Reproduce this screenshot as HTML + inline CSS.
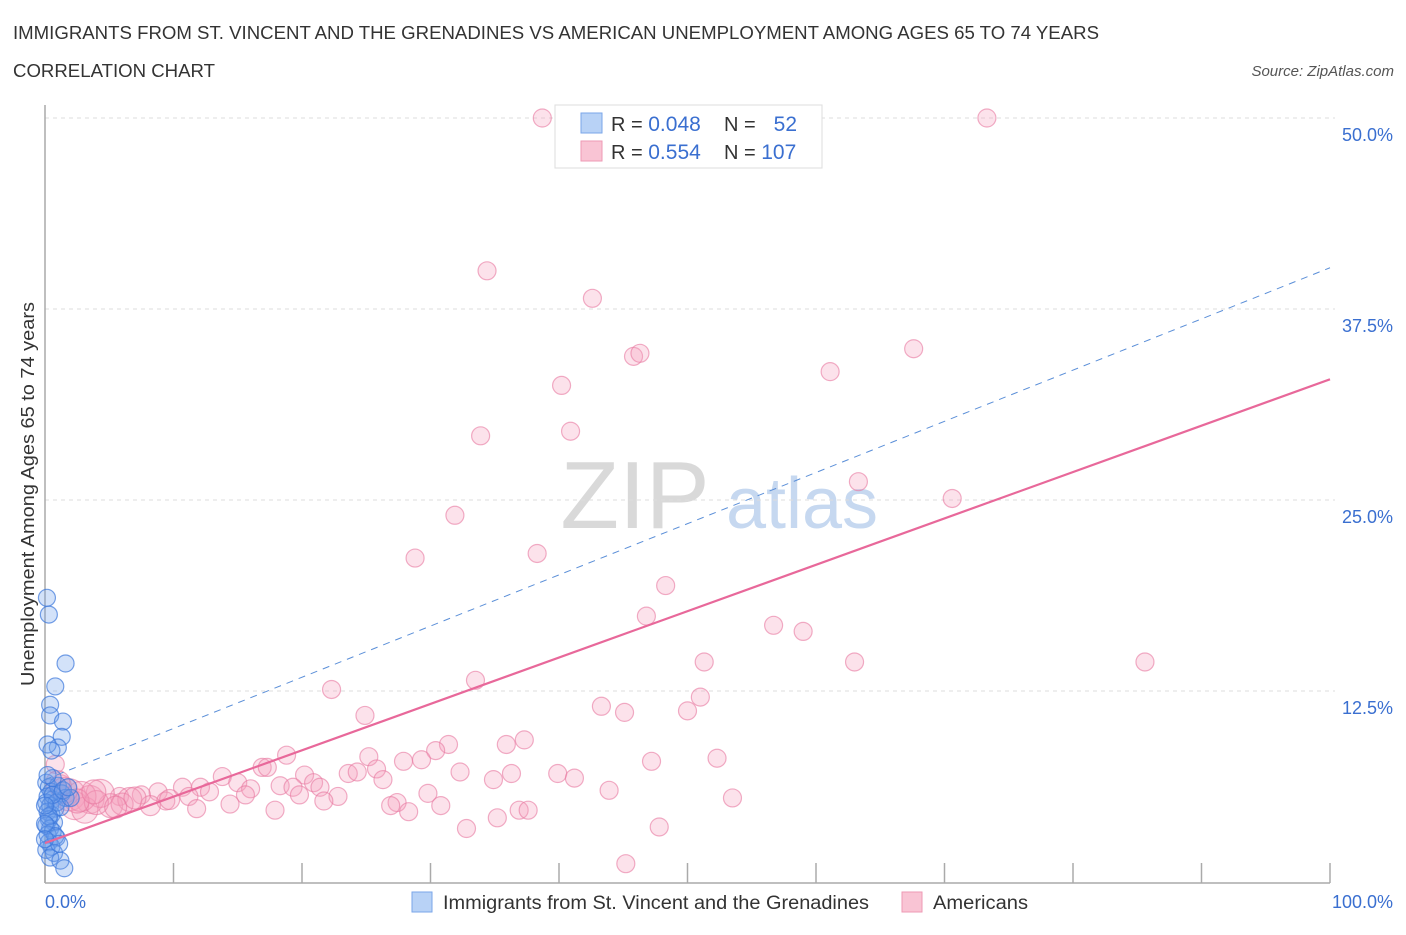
<!DOCTYPE html>
<html><head><meta charset="utf-8"><style>
body{margin:0;background:#fff;font-family:"Liberation Sans",sans-serif;}
svg text{font-family:"Liberation Sans",sans-serif;}
</style></head><body>
<svg id="chart" width="1406" height="930" xmlns="http://www.w3.org/2000/svg">
<text x="13" y="39" font-size="18" fill="#333" textLength="1086" lengthAdjust="spacingAndGlyphs">IMMIGRANTS FROM ST. VINCENT AND THE GRENADINES VS AMERICAN UNEMPLOYMENT AMONG AGES 65 TO 74 YEARS</text>
<text x="13" y="77" font-size="18" fill="#333" textLength="202" lengthAdjust="spacingAndGlyphs">CORRELATION CHART</text>
<text x="1394" y="76" font-size="15" fill="#555" text-anchor="end" font-style="italic">Source: ZipAtlas.com</text>
<g>
<text x="635" y="528" font-size="96" fill="#d9d9d9" font-family="Liberation Serif, serif" text-anchor="middle">ZIP</text>
<text x="802" y="528" font-size="72" fill="#c6d8f0" text-anchor="middle">atlas</text>
</g>
<g id="grid"></g>
<g id="axes"></g>
<g id="marks"></g>
<text transform="translate(34,494) rotate(-90)" font-size="18" fill="#333" text-anchor="middle" textLength="384" lengthAdjust="spacingAndGlyphs">Unemployment Among Ages 65 to 74 years</text>
<g>
<rect x="555" y="105" width="267" height="63" fill="#fff" stroke="#ddd"/>
<rect x="581" y="113" width="21" height="20" fill="#b8d2f6" stroke="#7aa6e8"/>
<rect x="581" y="141" width="21" height="20" fill="#f9c4d4" stroke="#ee9ab4"/>
<text x="611" y="131" font-size="20" fill="#333">R = <tspan fill="#3a6fd0" font-size="21">0.048</tspan></text>
<text x="724" y="131" font-size="20" fill="#333">N = </text><text x="797" y="131" font-size="21" fill="#3a6fd0" text-anchor="end">52</text>
<text x="611" y="159" font-size="20" fill="#333">R = <tspan fill="#3a6fd0" font-size="21"> 0.554</tspan></text>
<text x="724" y="159" font-size="20" fill="#333">N = <tspan fill="#3a6fd0" font-size="21">107</tspan></text>
</g>
<g>
<rect x="412" y="892" width="20" height="20" fill="#b8d2f6" stroke="#7aa6e8"/>
<text x="443" y="909" font-size="19" fill="#333" textLength="426" lengthAdjust="spacingAndGlyphs">Immigrants from St. Vincent and the Grenadines</text>
<rect x="902" y="892" width="20" height="20" fill="#f9c4d4" stroke="#ee9ab4"/>
<text x="933" y="909" font-size="19" fill="#333" textLength="95" lengthAdjust="spacingAndGlyphs">Americans</text>
</g>
</svg>
<script>
const yTicks=[12.5,25.0,37.5,50.0];
const xTickLabels=["0.0%","100.0%"];
const blueTrend=[6.7,40.2];
const pinkTrend=[2.55,32.9];
const blueX=[0.15,0.3,1.6,0.8,0.4,0.4,1.4,1.3,1.0,0.2,0.1,0.3,0.5,0.2,0.6,0.1,0.4,0.8,0.2,0.5,0.3,0.7,0.1,0.4,0.6,0.2,0.9,0.3,0.5,0.1,0.7,0.4,1.2,1.5,1.0,1.3,1.6,0.9,1.2,0.6,0.2,0.8,1.1,0.3,0.6,1.4,0.0,0.0,0.0,2.0,1.8,0.5];
const blueY=[18.6,17.5,14.3,12.8,11.6,10.9,10.5,9.5,8.8,9.0,6.5,6.2,5.9,5.6,5.4,5.2,5.0,4.8,4.6,4.4,4.1,3.9,3.7,3.5,3.3,3.1,2.9,2.6,2.3,2.1,1.9,1.6,1.4,0.9,6.3,5.8,5.5,5.2,4.9,6.8,7.0,3.0,2.5,4.3,5.7,6.0,5.0,3.8,2.8,5.5,6.2,8.6];
const pinkX=[38.7,73.3,34.4,42.6,45.8,46.3,67.6,40.2,61.1,33.9,40.9,63.3,70.6,31.9,28.8,38.3,48.3,46.8,56.7,59.0,51.3,63.0,85.6,22.3,33.5,51.0,43.3,50.0,45.1,24.9,31.4,37.3,35.9,30.4,18.8,25.2,27.9,29.3,47.2,52.3,16.9,17.3,23.6,24.3,25.8,32.3,36.3,39.9,41.2,34.9,26.3,20.2,13.8,15.0,20.9,21.4,18.3,19.3,16.0,10.7,12.1,12.8,8.8,22.8,19.8,29.8,43.9,15.6,11.2,7.5,5.8,21.7,9.4,14.4,27.4,26.9,30.8,53.5,17.9,11.8,28.3,36.9,37.6,35.2,32.8,47.8,45.2,0.8,1.9,3.5,5.1,6.6,4.3,1.2,2.3,8.2,9.7,3.1,2.8,4.0,6.0,1.5,7.0,2.5,1.0,5.5,3.8];
const pinkY=[50.0,50.0,40.0,38.2,34.4,34.6,34.9,32.5,33.4,29.2,29.5,26.2,25.1,24.0,21.2,21.5,19.4,17.4,16.8,16.4,14.4,14.4,14.4,12.6,13.2,12.1,11.5,11.2,11.1,10.9,9.0,9.3,9.0,8.6,8.3,8.2,7.9,8.0,7.9,8.1,7.5,7.5,7.1,7.2,7.4,7.2,7.1,7.1,6.8,6.7,6.7,7.0,6.9,6.5,6.5,6.2,6.3,6.2,6.1,6.2,6.2,5.9,5.9,5.6,5.7,5.8,6.0,5.7,5.6,5.7,5.6,5.3,5.3,5.1,5.2,5.0,5.0,5.5,4.7,4.8,4.6,4.7,4.7,4.2,3.5,3.6,1.2,7.7,5.7,5.4,5.0,5.4,5.8,6.3,5.0,5.0,5.4,4.7,5.6,5.2,5.1,6.0,5.5,5.3,6.5,4.9,5.9];
const pinkR=[9,9,9,9,9,9,9,9,9,9,9,9,9,9,9,9,9,9,9,9,9,9,9,9,9,9,9,9,9,9,9,9,9,9,9,9,9,9,9,9,9,9,9,9,9,9,9,9,9,9,9,9,9,9,9,9,9,9,9,9,9,9,9,9,9,9,9,9,9,9,9,9,9,9,9,9,9,9,9,9,9,9,9,9,9,9,9,9,16,14,12,12,14,11,14,10,10,13,15,12,11,13,11,12,12,11,12];
const X0=45,X1=1330,Y0=882,YPX=15.28;
const xs=v=>X0+(X1-X0)*v/100;
const ys=v=>Y0-v*YPX;
const NS="http://www.w3.org/2000/svg";
function mk(tag,attrs,parent){const e=document.createElementNS(NS,tag);for(const k in attrs)e.setAttribute(k,attrs[k]);parent.appendChild(e);return e;}
const grid=document.getElementById('grid'),axes=document.getElementById('axes'),marks=document.getElementById('marks');
yTicks.forEach(t=>{
 const l=mk('line',{x1:X0,x2:X1+5,y1:ys(t),y2:ys(t),stroke:'#ddd','stroke-dasharray':'4,4'},grid);
 
 
 const tx=mk('text',{x:1393,y:ys(t)+23,'font-size':18,fill:'#3a6fd0','text-anchor':'end'},axes);
 tx.textContent=t.toFixed(1)+'%';
 
 
});
const ax=mk('line',{x1:X0,x2:X1,y1:Y0+1,y2:Y0+1,stroke:'#aaa','stroke-width':1.5},axes);


const ay=mk('line',{x1:X0,x2:X0,y1:105,y2:Y0+1,stroke:'#aaa','stroke-width':1.5},axes);


for(let i=0;i<=10;i++){
 const tk=mk('line',{x1:xs(i*10),x2:xs(i*10),y1:Y0-19,y2:Y0+1,stroke:'#aaa','stroke-width':1.5},axes);
 
 
}
const xl0=mk('text',{x:45,y:908,'font-size':18,fill:'#3a6fd0'},axes);xl0.textContent=xTickLabels[0];


const xl1=mk('text',{x:1393,y:908,'font-size':18,fill:'#3a6fd0','text-anchor':'end'},axes);xl1.textContent=xTickLabels[1];


pinkX.forEach((x,i)=>{
 const c=mk('circle',{cx:xs(x),cy:ys(pinkY[i]),r:pinkR[i],fill:'rgba(244,160,188,0.3)',stroke:'rgba(232,120,160,0.6)','stroke-width':1.2},marks);
 
 
});
blueX.forEach((x,i)=>{
 const c=mk('circle',{cx:xs(x),cy:ys(blueY[i]),r:8.5,fill:'rgba(110,160,235,0.3)',stroke:'rgba(60,120,220,0.7)','stroke-width':1.2},marks);
 
 
});
const bt=mk('line',{x1:xs(0),y1:ys(blueTrend[0]),x2:xs(100),y2:ys(blueTrend[1]),stroke:'#5b8fd8','stroke-width':1,'stroke-dasharray':'7,6'},marks);


const pt=mk('line',{x1:xs(0),y1:ys(pinkTrend[0]),x2:xs(100),y2:ys(pinkTrend[1]),stroke:'#e8689a','stroke-width':2.2},marks);


</script>
</body></html>
